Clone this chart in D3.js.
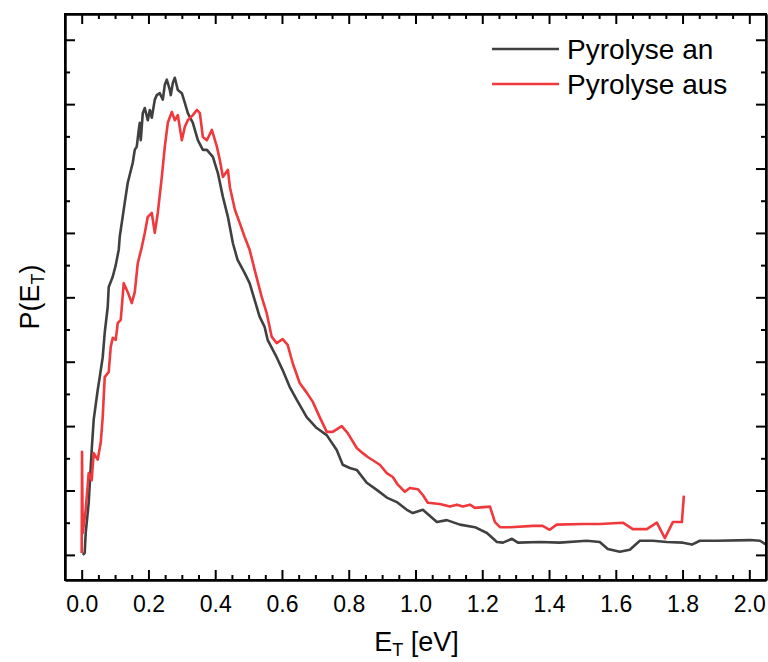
<!DOCTYPE html>
<html>
<head>
<meta charset="utf-8">
<script src="https://cdn.jsdelivr.net/npm/d3@7"></script>
<style>
  html, body { margin: 0; padding: 0; background: #fff; }
  svg { display: block; }
  text { font-family: "Liberation Sans", Arial, sans-serif; fill: #000; }
</style>
</head>
<body>
<svg id="chart" width="768" height="662"></svg>
<script>
// Translational energy distributions P(E_T), arbitrary units
const seriesNames = ["Pyrolyse an", "Pyrolyse aus"];
const seriesColors = ["#404040", "#f0393d"];

// Pyrolyse an: E_T [eV]
const anE = [0.003,0.009,0.012,0.021,0.030,0.036,0.048,0.054,0.063,0.069,0.078,0.081,0.093,0.102,0.111,0.114,0.129,0.138,0.153,0.159,0.165,0.171,0.174,0.177,0.183,0.189,0.198,0.204,0.210,0.219,0.225,0.234,0.243,0.249,0.255,0.264,0.267,0.273,0.279,0.288,0.300,0.309,0.318,0.333,0.348,0.363,0.375,0.393,0.408,0.423,0.438,0.453,0.467,0.488,0.503,0.518,0.533,0.548,0.557,0.584,0.602,0.623,0.644,0.674,0.704,0.734,0.764,0.782,0.803,0.824,0.854,0.884,0.914,0.944,0.974,0.992,1.022,1.064,1.094,1.133,1.178,1.214,1.244,1.262,1.289,1.307,1.373,1.432,1.513,1.552,1.576,1.612,1.642,1.672,1.711,1.753,1.801,1.828,1.852,1.903,2.002,2.032,2.050];
// Pyrolyse an: P(E_T)
const anP = [0.00,0.03,0.34,0.81,1.63,2.10,2.56,2.76,3.07,3.45,3.85,4.16,4.32,4.50,4.74,4.94,5.47,5.78,6.09,6.29,6.34,6.60,6.71,6.44,6.86,6.94,6.75,6.91,6.79,7.07,7.14,7.17,7.07,7.30,7.38,7.22,7.14,7.33,7.41,7.22,7.17,7.02,6.86,6.71,6.44,6.29,6.29,6.18,5.93,5.56,5.25,4.84,4.58,4.38,4.22,3.96,3.70,3.54,3.34,3.07,2.87,2.61,2.41,2.14,1.97,1.86,1.63,1.40,1.35,1.32,1.12,1.01,0.89,0.82,0.70,0.65,0.70,0.51,0.54,0.47,0.43,0.34,0.20,0.19,0.25,0.19,0.20,0.19,0.22,0.20,0.09,0.05,0.08,0.22,0.22,0.20,0.19,0.16,0.22,0.22,0.23,0.22,0.16];

// Pyrolyse aus: E_T [eV]
const ausE = [0.000,0.001,0.003,0.012,0.021,0.030,0.036,0.048,0.057,0.063,0.069,0.081,0.087,0.093,0.102,0.108,0.117,0.126,0.138,0.150,0.159,0.168,0.180,0.189,0.198,0.210,0.219,0.228,0.240,0.249,0.258,0.270,0.279,0.288,0.300,0.309,0.318,0.333,0.345,0.354,0.363,0.375,0.390,0.405,0.414,0.423,0.438,0.444,0.459,0.473,0.488,0.503,0.518,0.539,0.554,0.569,0.584,0.602,0.617,0.632,0.653,0.674,0.692,0.713,0.734,0.752,0.779,0.797,0.824,0.842,0.857,0.893,0.914,0.932,0.947,0.968,0.983,1.007,1.022,1.037,1.073,1.103,1.124,1.142,1.163,1.178,1.223,1.238,1.253,1.283,1.352,1.381,1.402,1.423,1.501,1.552,1.621,1.651,1.693,1.723,1.747,1.771,1.798,1.804];
// Pyrolyse aus: P(E_T)
const ausP = [0.03,1.60,0.34,0.70,1.27,1.16,1.58,1.48,1.74,2.14,2.76,2.84,3.23,3.37,3.34,3.60,3.65,4.22,4.08,3.91,4.08,4.53,4.78,5.00,5.25,5.31,5.00,5.31,5.87,6.34,6.71,6.88,6.75,6.83,6.44,6.65,6.75,6.83,6.91,6.86,6.49,6.44,6.60,6.34,6.13,5.87,5.98,5.71,5.36,5.16,4.94,4.74,4.43,4.01,3.76,3.39,3.29,3.35,3.26,2.98,2.67,2.52,2.38,2.14,1.91,1.91,2.00,1.89,1.66,1.58,1.52,1.40,1.27,1.21,1.09,0.98,1.04,1.02,0.93,0.81,0.79,0.75,0.78,0.75,0.78,0.73,0.75,0.51,0.43,0.43,0.45,0.45,0.39,0.47,0.48,0.48,0.50,0.40,0.40,0.50,0.26,0.51,0.51,0.92];

// Axis ticks
const xMajor = [0.0,0.2,0.4,0.6,0.8,1.0,1.2,1.4,1.6,1.8,2.0];
const xMinor = d3.range(0, 41).map(i => i * 0.05).filter(v => Math.abs(v * 5 - Math.round(v * 5)) > 1e-6);
const yMajor = [0,1,2,3,4,5,6,7,8];
const yMinor = [0.5,1.5,2.5,3.5,4.5,5.5,6.5,7.5];

const svg = d3.select("#chart");
const L = 65, R = 766, T = 14, B = 580;

const x = d3.scaleLinear().domain([-0.05, 2.05]).range([L, R]);
const y = d3.scaleLinear().domain([-0.39, 8.40]).range([B, T]);

svg.append("defs").append("clipPath").attr("id", "plotclip")
  .append("rect").attr("x", L).attr("y", T).attr("width", R - L).attr("height", B - T);

// Curves
const line = d3.line().x(d => x(d[0])).y(d => y(d[1]));
const series = [d3.zip(anE, anP), d3.zip(ausE, ausP)];
const g = svg.append("g").attr("clip-path", "url(#plotclip)");
series.forEach((s, i) => {
  g.append("path").datum(s)
    .attr("d", line)
    .attr("fill", "none")
    .attr("stroke", seriesColors[i])
    .attr("stroke-width", 2.6)
    .attr("stroke-linejoin", "round");
});

// Axes: inward ticks on all four sides
function styleAxis(sel) {
  sel.selectAll("path.domain").attr("stroke", "#000").attr("stroke-width", 2);
  sel.selectAll(".tick line").attr("stroke", "#000").attr("stroke-width", 2);
  sel.selectAll(".tick text").style("font-size", "23px").attr("fill", "#000");
}

const xBottom = svg.append("g").attr("transform", `translate(0,${B})`)
  .call(d3.axisBottom(x).tickValues(xMajor).tickSizeInner(-10).tickSizeOuter(0)
    .tickPadding(16).tickFormat(d3.format(".1f")));
styleAxis(xBottom);
const xBottomMinor = svg.append("g").attr("transform", `translate(0,${B})`)
  .call(d3.axisBottom(x).tickValues(xMinor).tickSizeInner(-5).tickSizeOuter(0).tickFormat(""));
styleAxis(xBottomMinor);

const xTop = svg.append("g").attr("transform", `translate(0,${T})`)
  .call(d3.axisTop(x).tickValues(xMajor).tickSizeInner(-10).tickSizeOuter(0).tickFormat(""));
styleAxis(xTop);
const xTopMinor = svg.append("g").attr("transform", `translate(0,${T})`)
  .call(d3.axisTop(x).tickValues(xMinor).tickSizeInner(-5).tickSizeOuter(0).tickFormat(""));
styleAxis(xTopMinor);

const yLeft = svg.append("g").attr("transform", `translate(${L},0)`)
  .call(d3.axisLeft(y).tickValues(yMajor).tickSizeInner(-10).tickSizeOuter(0).tickFormat(""));
styleAxis(yLeft);
const yLeftMinor = svg.append("g").attr("transform", `translate(${L},0)`)
  .call(d3.axisLeft(y).tickValues(yMinor).tickSizeInner(-5).tickSizeOuter(0).tickFormat(""));
styleAxis(yLeftMinor);

const yRight = svg.append("g").attr("transform", `translate(${R},0)`)
  .call(d3.axisRight(y).tickValues(yMajor).tickSizeInner(-10).tickSizeOuter(0).tickFormat(""));
styleAxis(yRight);
const yRightMinor = svg.append("g").attr("transform", `translate(${R},0)`)
  .call(d3.axisRight(y).tickValues(yMinor).tickSizeInner(-5).tickSizeOuter(0).tickFormat(""));
styleAxis(yRightMinor);

// Closed frame
svg.append("rect").attr("x", L).attr("y", T).attr("width", R - L).attr("height", B - T)
  .attr("fill", "none").attr("stroke", "#000").attr("stroke-width", 2);

// Axis titles
const xt = svg.append("text").attr("x", (L + R) / 2 + 1).attr("y", 651)
  .attr("text-anchor", "middle").style("font-size", "27px");
xt.append("tspan").text("E");
xt.append("tspan").attr("dy", 5).style("font-size", "18px").text("T");
xt.append("tspan").attr("dy", -5).text(" [eV]");

const yt = svg.append("text")
  .attr("transform", `translate(39,${(T + B) / 2}) rotate(-90)`)
  .attr("text-anchor", "middle").style("font-size", "27px");
yt.append("tspan").text("P(E");
yt.append("tspan").attr("dy", 5).style("font-size", "18px").text("T");
yt.append("tspan").attr("dy", -5).text(")");

// Legend
const legend = svg.append("g");
seriesNames.forEach((name, i) => {
  const ly = 49 + i * 35;
  legend.append("line").attr("x1", 492).attr("x2", 559).attr("y1", ly).attr("y2", ly)
    .attr("stroke", seriesColors[i]).attr("stroke-width", 2.6);
  legend.append("text").attr("x", 567).attr("y", ly + 10).style("font-size", "28px").text(name);
});
</script>
</body>
</html>
